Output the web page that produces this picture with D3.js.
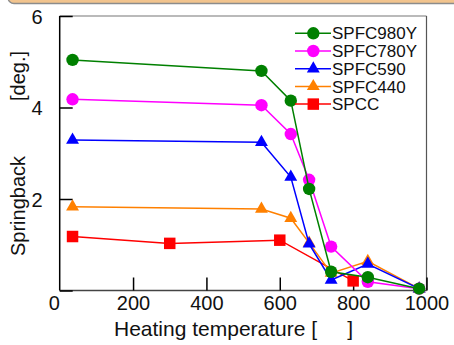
<!DOCTYPE html>
<html>
<head>
<meta charset="utf-8">
<script src="https://cdn.jsdelivr.net/npm/d3@7"></script>
<style>
  html, body { margin: 0; padding: 0; background: #fff; }
  svg { display: block; font-family: "Liberation Sans", Arial, sans-serif; }
</style>
</head>
<body>
<svg id="chart" width="454" height="345"></svg>
<script>
// Springback angle vs. heating temperature for five steel grades
const seriesNames = ["SPFC980Y", "SPFC780Y", "SPFC590", "SPFC440", "SPCC"];
const seriesColors = ["#008000", "#ff00ff", "#0000ff", "#ff8000", "#ff0000"];
const seriesSymbols = ["circle", "circle", "triangle", "triangle", "square"];

const tempsSPFC980Y = [35, 550, 630, 680, 740, 840, 980];
const springSPFC980Y = [5.04, 4.80, 4.15, 2.22, 0.41, 0.29, 0.04];

const tempsSPFC780Y = [35, 550, 630, 680, 740, 840, 980];
const springSPFC780Y = [4.18, 4.05, 3.42, 2.42, 0.96, 0.19, 0.04];

const tempsSPFC590 = [35, 550, 630, 680, 740, 840, 980];
const springSPFC590 = [3.29, 3.24, 2.48, 1.02, 0.23, 0.58, 0.04];

const tempsSPFC440 = [35, 550, 630, 680, 740, 840, 980];
const springSPFC440 = [1.83, 1.78, 1.58, 1.04, 0.38, 0.64, 0.04];

const tempsSPCC = [35, 300, 600, 800];
const springSPCC = [1.18, 1.03, 1.10, 0.21];

const xTicks = [0, 200, 400, 600, 800, 1000];
const yTicks = [0, 2, 4, 6];
const yTickLabels = ["", "2", "4", "6"];

const allTemps = [tempsSPFC980Y, tempsSPFC780Y, tempsSPFC590, tempsSPFC440, tempsSPCC];
const allSpring = [springSPFC980Y, springSPFC780Y, springSPFC590, springSPFC440, springSPCC];

const svg = d3.select("#chart");

// decorative banner along the top edge
svg.append("rect")
  .attr("x", 8).attr("y", -12).attr("width", 470).attr("height", 15.5)
  .attr("rx", 6)
  .attr("fill", "#f2c48e").attr("stroke", "#8c8c8c").attr("stroke-width", 1.4);

const x = d3.scaleLinear().domain([0, 1000]).range([59.7, 426.5]);
const y = d3.scaleLinear().domain([0, 6]).range([290.5, 16]);

const plotLeft = x(0), plotRight = x(1000), plotTop = y(6), plotBottom = y(0);

// plot frame
svg.append("line").attr("x1", plotLeft).attr("x2", plotRight).attr("y1", plotTop).attr("y2", plotTop)
  .attr("stroke", "#777").attr("stroke-width", 1.2);
svg.append("line").attr("x1", plotRight).attr("x2", plotRight).attr("y1", plotTop).attr("y2", plotBottom)
  .attr("stroke", "#555").attr("stroke-width", 1.2);
svg.append("line").attr("x1", plotLeft).attr("x2", plotRight).attr("y1", plotBottom).attr("y2", plotBottom)
  .attr("stroke", "#444").attr("stroke-width", 1.4);
svg.append("line").attr("x1", plotLeft).attr("x2", plotLeft).attr("y1", plotTop).attr("y2", plotBottom)
  .attr("stroke", "#000").attr("stroke-width", 1.5);

// x axis: ticks pointing inward
const xAxis = d3.axisBottom(x).tickValues(xTicks).tickSize(-13).tickPadding(20)
  .tickFormat(d3.format("d"));
const gx = svg.append("g").attr("transform", `translate(0,${plotBottom})`).call(xAxis);
gx.select(".domain").remove();
gx.selectAll(".tick line").attr("stroke", "#000").attr("stroke-width", 1.5)
  .filter(d => d === 0).remove();
gx.selectAll(".tick text")
  .attr("font-size", 20).attr("fill", "#111").attr("font-family", "Liberation Sans, Arial, sans-serif")
  .attr("dy", 0).attr("y", 19)
  .attr("dx", d => d === 0 ? -6 : 0);

// y axis: ticks pointing inward
const yAxis = d3.axisLeft(y).tickValues(yTicks).tickSize(-13).tickPadding(17)
  .tickFormat((d, i) => yTickLabels[i]);
const gy = svg.append("g").attr("transform", `translate(${plotLeft},0)`).call(yAxis);
gy.select(".domain").remove();
gy.selectAll(".tick line").attr("stroke", "#000").attr("stroke-width", 1.5);
gy.selectAll(".tick text")
  .attr("font-size", 20).attr("fill", "#111").attr("font-family", "Liberation Sans, Arial, sans-serif")
  .attr("dy", "0.36em");

// axis titles (the unit between the brackets is left blank)
svg.append("text")
  .attr("x", 114).attr("y", 336)
  .attr("font-size", 21).attr("fill", "#111")
  .text("Heating temperature [");
svg.append("text")
  .attr("x", 353).attr("y", 336)
  .attr("text-anchor", "end")
  .attr("font-size", 21).attr("fill", "#111")
  .text("]");

svg.append("text")
  .attr("transform", "translate(25,206) rotate(-90)")
  .attr("text-anchor", "middle")
  .attr("font-size", 20).attr("fill", "#111")
  .text("Springback");
svg.append("text")
  .attr("transform", "translate(25,76) rotate(-90)")
  .attr("text-anchor", "middle")
  .attr("font-size", 20).attr("fill", "#111")
  .text("[deg.]");

// marker shapes
const symbolFor = {
  circle: d3.symbol().type(d3.symbolCircle).size(Math.PI * 6.2 * 6.2),
  triangle: d3.symbol().type(d3.symbolTriangle).size(72),
  square: d3.symbol().type(d3.symbolSquare).size(132)
};

const line = d3.line().x(d => x(d[0])).y(d => y(d[1]));

// draw back to front: SPCC first, SPFC980Y on top
const order = [4, 3, 2, 1, 0];
order.forEach(i => {
  const pts = allTemps[i].map((t, k) => [t, allSpring[i][k]]);
  const g = svg.append("g");
  g.append("path").datum(pts)
    .attr("d", line)
    .attr("fill", "none")
    .attr("stroke", seriesColors[i])
    .attr("stroke-width", 1.5);
  g.selectAll("path.mark").data(pts).join("path")
    .attr("class", "mark")
    .attr("transform", d => `translate(${x(d[0])},${y(d[1])})`)
    .attr("d", symbolFor[seriesSymbols[i]]())
    .attr("fill", seriesColors[i]);
});

// legend
const legend = svg.append("g");
seriesNames.forEach((name, i) => {
  const cy = 33.3 + i * 17.7;
  legend.append("line")
    .attr("x1", 295).attr("x2", 331).attr("y1", cy).attr("y2", cy)
    .attr("stroke", seriesColors[i]).attr("stroke-width", 1.5);
  legend.append("path")
    .attr("transform", `translate(313.3,${cy})`)
    .attr("d", symbolFor[seriesSymbols[i]]())
    .attr("fill", seriesColors[i]);
  legend.append("text")
    .attr("x", 332).attr("y", cy).attr("dy", "0.36em")
    .attr("font-size", 17).attr("fill", "#111")
    .text(name);
});
</script>
</body>
</html>
